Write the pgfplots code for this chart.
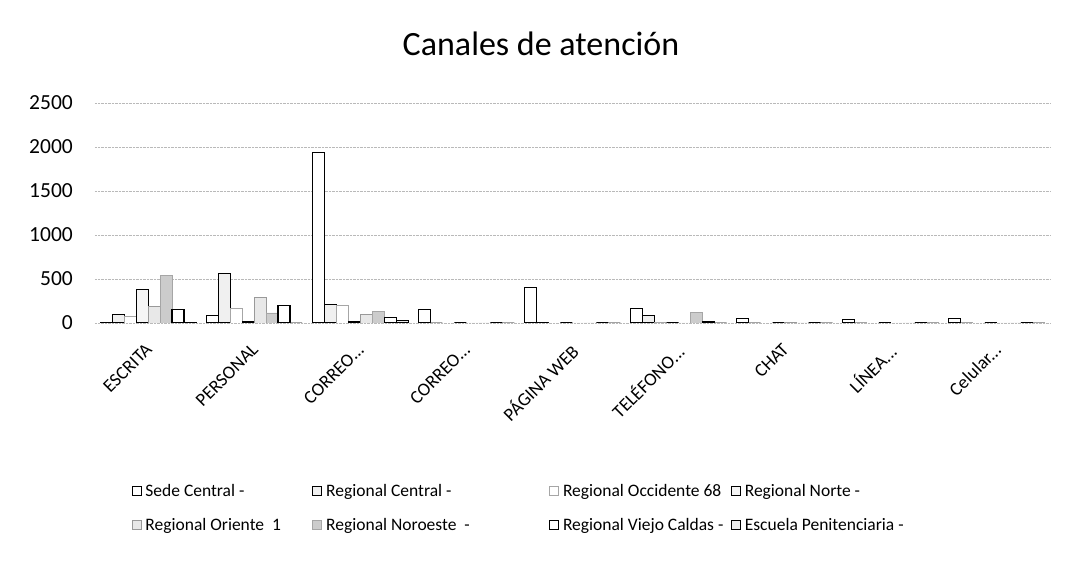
\documentclass[border=0pt]{standalone}
\usepackage{fontspec}
\setmainfont{Carlito}
\usepackage{pgfplots}
\pgfplotsset{compat=1.18}
\newcommand{\trdots}{{.}{.}{.}}
\begin{document}
\begin{tikzpicture}
\useasboundingbox (-95pt,-246pt) rectangle (974pt,323pt);
\begin{axis}[
  at={(0,0)}, anchor=south west,
  scale only axis, width=955pt, height=220pt,
  ybar=0pt, bar width=12pt,
  xmin=-0.5, xmax=8.5, ymin=0, ymax=2500,
  ytick={0,500,1000,1500,2000,2500},
  scaled y ticks=false,
  yticklabel style={/pgf/number format/1000 sep={}},
  xtick={0,1,2,3,4,5,6,7,8},
  xticklabels={ESCRITA,PERSONAL,CORREO\trdots,CORREO\trdots,PÁGINA WEB,TELÉFONO\trdots,CHAT,LÍNEA\trdots,Celular\trdots},
  xticklabel style={rotate=45, anchor=north east, inner sep=0pt, yshift=-8pt, xshift=-13pt, font=\fontsize{18.5}{20}\selectfont},
  yticklabel style={anchor=east, inner sep=0pt, xshift=-22pt, font=\fontsize{21.5}{24}\selectfont},
  /pgf/number format/assume math mode=true,
  axis line style={draw=none},
  tick style={draw=none},
  ymajorgrids, grid style={gray!55, densely dotted, line width=0.6pt},
  title={Canales de atención},
  title style={at={(0.467,1)}, anchor=base, yshift=41pt, font=\fontsize{34}{38}\selectfont},
  legend columns=4,
  legend cell align=left,
  legend style={at={(0.035,-0.714)}, anchor=north west, draw=none, fill=none,
    font=\fontsize{17.5}{20}\selectfont,
    /tikz/every odd column/.append style={column sep=2pt},
    /tikz/every even column/.append style={column sep=0pt},
    row sep=16pt},
  legend image code/.code={\draw[#1, line width=0.8pt] (0pt,-4.5pt) rectangle (9pt,4.5pt);},
]
\addplot[draw=black, fill=white, line width=1pt] coordinates {(0,10) (1,85) (2,1940) (3,150) (4,400) (5,160) (6,55) (7,45) (8,50)};
\addplot[draw=black, fill=gray!12, line width=1pt] coordinates {(0,97) (1,565) (2,215) (3,0) (4,5) (5,80) (6,0) (7,0) (8,0)};
\addplot[draw=gray!70, fill=white, line width=0.9pt] coordinates {(0,80) (1,170) (2,195) (3,0) (4,0) (5,5) (6,0) (7,0) (8,0)};
\addplot[draw=black, fill=gray!8, line width=1.1pt] coordinates {(0,380) (1,22) (2,20) (3,0) (4,0) (5,0) (6,0) (7,0) (8,0)};
\addplot[draw=gray!80, fill=gray!18, line width=0.9pt] coordinates {(0,190) (1,285) (2,97) (3,0) (4,0) (5,0) (6,10) (7,0) (8,0)};
\addplot[draw=gray!70, fill=gray!40, line width=0.9pt] coordinates {(0,535) (1,114) (2,130) (3,0) (4,0) (5,115) (6,0) (7,0) (8,0)};
\addplot[draw=black, fill=white, line width=1.4pt] coordinates {(0,150) (1,198) (2,60) (3,0) (4,0) (5,20) (6,0) (7,0) (8,0)};
\addplot[draw=black, fill=gray!15, line width=1pt] coordinates {(0,5) (1,0) (2,32) (3,0) (4,0) (5,0) (6,0) (7,0) (8,0)};
\legend{\makebox[165pt][l]{Sede Central -},\makebox[221pt][l]{Regional Central -},\makebox[166pt][l]{Regional Occidente 68},Regional Norte -,
  \makebox[165pt][l]{Regional Oriente\ \ 1},\makebox[221pt][l]{Regional Noroeste\ \ -},\makebox[166pt][l]{Regional Viejo Caldas -},Escuela Penitenciaria -}
\end{axis}
\end{tikzpicture}
\end{document}
